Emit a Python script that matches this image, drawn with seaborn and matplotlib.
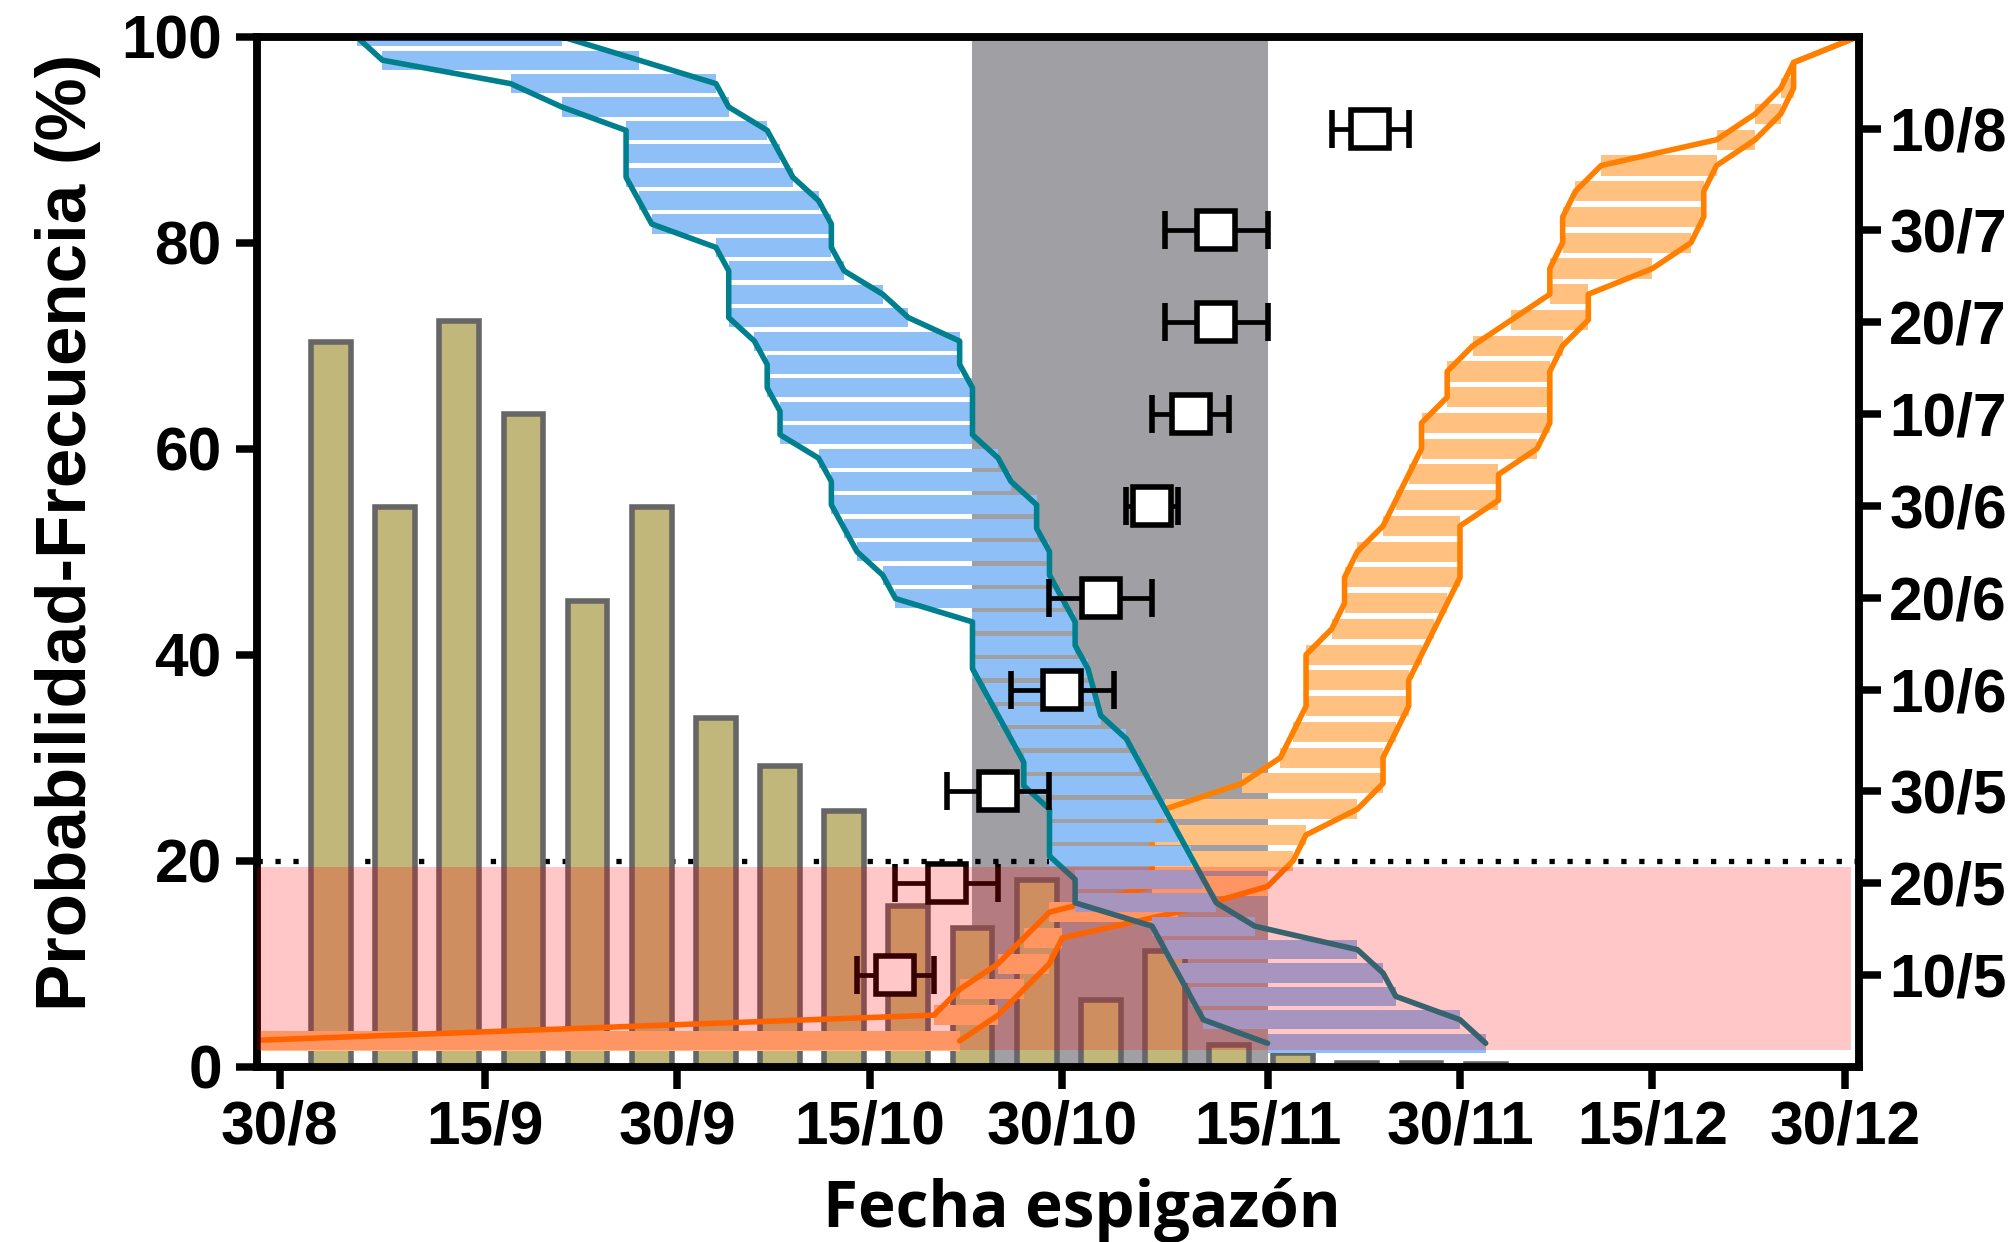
import numpy as np
import matplotlib
matplotlib.use("Agg")
import matplotlib.pyplot as plt
from matplotlib.patches import Rectangle
import seaborn as sns

# bottom axis: days counted from 30 Aug (30/8 = day 0)
x_tick_days = [0, 16, 31, 46, 61, 77, 92, 107, 122]
x_tick_labels = ["30/8", "15/9", "30/9", "15/10", "30/10", "15/11", "30/11", "15/12", "30/12"]

# right axis: sowing date as day of year
sow_doy = [130, 140, 150, 161, 171, 181, 191, 201, 211, 222]
sow_labels = ["10/5", "20/5", "30/5", "10/6", "20/6", "30/6", "10/7", "20/7", "30/7", "10/8"]

# heading date (days from 30/8) for each sowing date, mean and sd
heading_day = [48, 52, 56, 61, 64, 68, 71, 73, 73, 85]
heading_sd = [3, 4, 4, 4, 4, 2, 3, 4, 4, 3]

# frequency bars, 5-day classes
bar_day = [4, 9, 14, 19, 24, 29, 34, 39, 44, 49, 54, 59, 64, 69, 74, 79, 84, 89, 94]
bar_pct = [70.4, 54.3, 72.4, 63.4, 45.2, 54.3, 33.9, 29.2, 24.8, 15.6,
           13.5, 18.1, 6.5, 11.2, 2.1, 1.3, 0.4, 0.4, 0.3]

# blue band (probability levels and the two limiting dates)
blue_pct = [100.0, 97.73, 95.45, 93.18, 90.91, 88.64, 86.36, 84.09, 81.82, 79.55,
            77.27, 75.0, 72.73, 70.45, 68.18, 65.91, 63.64, 61.36, 59.09, 56.82,
            54.55, 52.27, 50.0, 47.73, 45.45, 43.18, 40.91, 38.64, 36.36, 34.09,
            31.82, 29.55, 27.27, 25.0, 22.73, 20.45, 18.18, 15.91, 13.64, 11.36,
            9.09, 6.82, 4.55, 2.27]
blue_lo = [6, 8, 18, 22, 27, 27, 27, 28, 29, 34, 35, 35, 35, 37, 38, 38, 39, 39, 42, 43,
           43, 44, 45, 47, 48, 54, 54, 54, 55, 56, 57, 58, 58, 60, 60, 60, 62, 62, 68, 69,
           70, 71, 72, 77]
blue_hi = [22, 28, 34, 35, 38, 39, 40, 42, 43, 43, 44, 47, 49, 53, 53, 54, 54, 54, 56, 57,
           59, 59, 60, 60, 61, 62, 62, 63, 63.5, 64, 66, 67, 68, 69, 70, 71, 72, 73, 76, 84,
           86, 87, 92, 94]

# orange band
orange_pct = [100.0, 97.5, 95.0, 92.5, 90.0, 87.5, 85.0, 82.5, 80.0, 77.5,
              75.0, 72.5, 70.0, 67.5, 65.0, 62.5, 60.0, 57.5, 55.0, 52.5,
              50.0, 47.5, 45.0, 42.5, 40.0, 37.5, 35.0, 32.5, 30.0, 27.5,
              25.0, 22.5, 20.0, 17.5, 15.0, 12.5, 10.0, 7.5, 5.0, 2.5]
orange_lo = [123, 118, 117, 115, 112, 103, 101, 100, 100, 99,
             99, 96, 93, 91, 91, 89, 89, 88, 87, 86,
             84, 83, 83, 82, 80, 80, 80, 79, 78, 75,
             69, 68, 68, 68, 60, 58, 56, 53, 51, -3]
orange_hi = [123, 118, 118, 117, 115, 112, 111, 111, 110, 107,
             102, 102, 100, 99, 99, 99, 98, 95, 95, 92,
             92, 92, 91, 90, 89, 88, 88, 87, 86, 86,
             84, 80, 79, 77, 70, 61, 60, 58, 56, 53]

gray_window = (54, 77)
risk_pct = (1.6, 19.4)
risk_until = 122.5
threshold_pct = 20

sns.set_theme(style="ticks")
plt.rcParams["font.family"] = ["Liberation Sans", "DejaVu Sans"]
plt.rcParams["font.weight"] = "bold"
plt.rcParams["text.color"] = "black"
plt.rcParams["axes.labelcolor"] = "black"


def draw_band(ax, pct, lo, hi, fill, line, height, z):
    pct = np.asarray(pct, float)
    lo = np.asarray(lo, float)
    hi = np.asarray(hi, float)
    ax.barh(pct, hi - lo, left=lo, height=height, color=fill, linewidth=0, zorder=z)
    for edge in (lo, hi):
        ax.plot(edge, pct, color=line, lw=2.0, zorder=z + 0.1)


fig, ax = plt.subplots(figsize=(10.08, 6.21), dpi=200)
fig.subplots_adjust(left=0.1274, right=0.9220, bottom=0.1412, top=0.9704)

ax.axvspan(*gray_window, color="#A09FA4", lw=0, zorder=0)
ax.axhline(threshold_pct, color="black", lw=1.9, ls=(0, (1, 2.4)), zorder=1)

sns.barplot(x=bar_day, y=bar_pct, native_scale=True, orient="x", width=0.62,
            color="#C2B77B", saturation=1, edgecolor="#666666", linewidth=2.0,
            errorbar=None, ax=ax, zorder=2)

draw_band(ax, orange_pct, orange_lo, orange_hi, "#FFC080", "#FF8000", 1.95, 3)
draw_band(ax, blue_pct, blue_lo, blue_hi, "#8FBFF7", "#00808E", 1.85, 4)

ax.set_xlim(-1.78, 123.08)
ax.set_ylim(0, 100)
ax.set_xticks(x_tick_days)
ax.set_xticklabels(x_tick_labels)
ax.set_yticks([0, 20, 40, 60, 80, 100])

ax2 = ax.twinx()
ax2.errorbar(heading_day, sow_doy, xerr=heading_sd, fmt="s", ms=14,
             mfc="white", mec="black", mew=2.0, ecolor="black",
             elinewidth=1.7, capsize=6.9, capthick=2.0, zorder=5)
ax2.set_ylim(120, 232)
ax2.set_yticks(sow_doy)
ax2.set_yticklabels(sow_labels)

# translucent red risk zone over everything
risk = Rectangle((-5, risk_pct[0]), risk_until + 5, risk_pct[1] - risk_pct[0],
                 transform=ax.transData, facecolor="red", alpha=0.22, lw=0, zorder=10)
ax2.add_artist(risk)

for a in (ax, ax2):
    for s in a.spines.values():
        s.set_linewidth(2.7)
        s.set_color("black")

ax.tick_params(axis="x", direction="out", width=2.7, length=7.9, labelsize=21.8,
               pad=4.0, colors="black")
ax.tick_params(axis="y", direction="out", width=2.7, length=7.4, labelsize=21.8,
               pad=5.2, colors="black")
ax2.tick_params(axis="y", direction="out", width=2.7, length=8, labelsize=21.8,
                pad=3, colors="black")

ax.set_ylabel("Probabilidad-Frecuencia (%)", fontsize=25.5, fontweight="bold",
              color="black")
ax.yaxis.set_label_coords(-0.1068, 0.519)
ax.yaxis.label.set_va("baseline")
ax.set_xlabel("Fecha espigazón", fontsize=22.9, fontweight="bold", color="black",
              family=["Open Sans", "DejaVu Sans"])
ax.xaxis.set_label_coords(0.515, -0.156)
ax.xaxis.label.set_va("baseline")

fig.savefig("out.png", dpi=200)
